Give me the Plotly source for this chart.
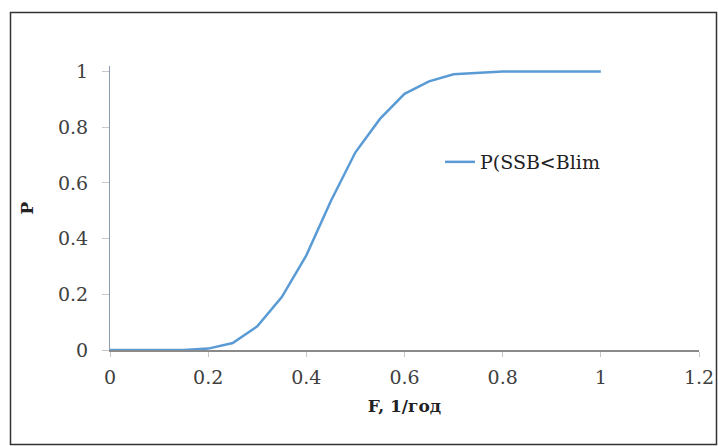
import plotly.graph_objects as go

F_values = [0.0, 0.05, 0.1, 0.15, 0.2, 0.25, 0.3, 0.35, 0.4, 0.45, 0.5,
            0.55, 0.6, 0.65, 0.7, 0.75, 0.8, 0.85, 0.9, 0.95, 1.0]
P_values = [0.0, 0.0, 0.0, 0.0, 0.005, 0.025, 0.085, 0.19, 0.34, 0.535, 0.71,
            0.83, 0.92, 0.965, 0.99, 0.995, 1.0, 1.0, 1.0, 1.0, 1.0]
series_name = "P(SSB<Blim"
x_ticks = [0, 0.2, 0.4, 0.6, 0.8, 1, 1.2]
x_tick_labels = ["0", "0.2", "0.4", "0.6", "0.8", "1", "1.2"]
y_ticks = [0, 0.2, 0.4, 0.6, 0.8, 1]
y_tick_labels = ["0", "0.2", "0.4", "0.6", "0.8", "1"]
x_title = "F, 1/год"
y_title = "P"

W, H = 718, 446
L, T = 110, 66
R = W - 699
B = H - 350
pw, ph = W - L - R, H - T - B

font_family = "DejaVu Serif"

fig = go.Figure()
fig.add_trace(go.Scatter(
    x=F_values, y=P_values, mode="lines", name=series_name,
    line=dict(color="#5b9bd5", width=2.5),
))

def px_to_paper_x(px):
    return (px - L) / pw

def px_to_paper_y(py):
    return (H - B - py) / ph

fig.update_layout(
    width=W, height=H,
    margin=dict(l=L, r=R, t=T, b=B, pad=0, autoexpand=False),
    paper_bgcolor="white", plot_bgcolor="white",
    font=dict(family=font_family, color="#333333", size=19),
    showlegend=True,
    legend=dict(
        x=px_to_paper_x(440), y=px_to_paper_y(162),
        xanchor="left", yanchor="middle",
        bgcolor="rgba(0,0,0,0)",
        font=dict(family=font_family, size=19, color="#222222"),
        itemwidth=30,
    ),
    xaxis=dict(
        range=[0, 1.2], tickvals=x_ticks, ticktext=x_tick_labels,
        automargin=False,
        showgrid=False, zeroline=False,
        showline=True, linecolor="#8a8a8a", linewidth=1.5,
        ticks="outside", ticklen=5, tickcolor="#c8c8c8",
        ticklabelstandoff=4,
        tickfont=dict(family=font_family, size=19, color="#404040"),
        title=dict(text="<b>" + x_title + "</b>",
                   font=dict(family=font_family, size=17, color="#222222"),
                   standoff=14),
    ),
    yaxis=dict(
        range=[0, 1.02], tickvals=y_ticks, ticktext=y_tick_labels,
        automargin=False,
        showgrid=False, zeroline=False,
        showline=True, linecolor="#8a9ab0", linewidth=1,
        ticks="outside", ticklen=7, tickcolor="#c8c8c8",
        ticklabelstandoff=10,
        tickfont=dict(family=font_family, size=19, color="#404040"),
        title=dict(text="<b>" + y_title + "</b>",
                   font=dict(family=font_family, size=17, color="#222222"),
                   standoff=20),
    ),
    shapes=[dict(
        type="rect", xref="paper", yref="paper",
        x0=px_to_paper_x(10.5), x1=px_to_paper_x(716.5),
        y0=px_to_paper_y(444.5), y1=px_to_paper_y(12.5),
        line=dict(color="#333333", width=1.5), fillcolor="rgba(0,0,0,0)",
        layer="above",
    )],
)

fig.write_html(
    "out.html",
    config={"displayModeBar": False},
    post_script="document.body.style.margin='0';document.body.style.overflow='hidden';",
)
